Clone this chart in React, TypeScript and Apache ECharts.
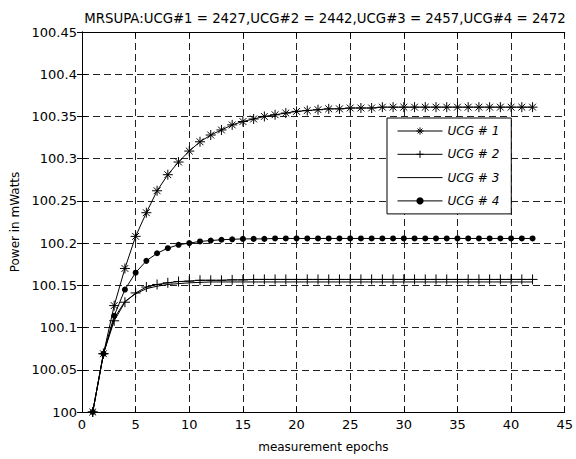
import React, { useEffect, useRef } from "react";
import * as echarts from "echarts";

const epochs: number[] = Array.from({ length: 42 }, (_, i) => i + 1);

const ucg1: number[] = [
  100, 100.069, 100.126, 100.17, 100.208, 100.236, 100.262, 100.281, 100.296, 100.309,
  100.32, 100.328, 100.334, 100.34, 100.344, 100.347, 100.35, 100.352, 100.354, 100.356,
  100.357, 100.358, 100.359, 100.359, 100.36, 100.36, 100.36, 100.361, 100.361, 100.361,
  100.361, 100.361, 100.361, 100.361, 100.361, 100.361, 100.361, 100.361, 100.361, 100.361,
  100.361, 100.361,
];
const ucg2: number[] = [
  100, 100.069, 100.108, 100.13, 100.141, 100.148, 100.151, 100.153, 100.1545, 100.155,
  100.156, 100.156, 100.156, 100.1565, 100.1565, 100.157, 100.157, 100.157, 100.157, 100.157,
  100.157, 100.157, 100.157, 100.157, 100.157, 100.157, 100.157, 100.157, 100.157, 100.157,
  100.157, 100.157, 100.157, 100.157, 100.157, 100.157, 100.157, 100.157, 100.157, 100.157,
  100.157, 100.157,
];
const ucg3: number[] = [
  100, 100.069, 100.111, 100.131, 100.14, 100.146, 100.149, 100.151, 100.152, 100.153,
  100.1535, 100.154, 100.154, 100.154, 100.154, 100.154, 100.154, 100.154, 100.154, 100.154,
  100.154, 100.154, 100.154, 100.154, 100.154, 100.154, 100.154, 100.154, 100.154, 100.154,
  100.154, 100.154, 100.154, 100.154, 100.154, 100.154, 100.154, 100.154, 100.154, 100.154,
  100.154, 100.154,
];
const ucg4: number[] = [
  100, 100.069, 100.114, 100.145, 100.165, 100.179, 100.188, 100.194, 100.198, 100.2,
  100.202, 100.203, 100.204, 100.2045, 100.205, 100.205, 100.205, 100.2055, 100.2055, 100.2055,
  100.2055, 100.2055, 100.2055, 100.2055, 100.2055, 100.2055, 100.2055, 100.2055, 100.2055, 100.2055,
  100.2055, 100.2055, 100.2055, 100.2055, 100.2055, 100.2055, 100.2055, 100.2055, 100.2055, 100.2055,
  100.2055, 100.2055,
];

const seriesNames = ["UCG # 1", "UCG # 2", "UCG # 3", "UCG # 4"];
const titleText = "MRSUPA:UCG#1 = 2427,UCG#2 = 2442,UCG#3 = 2457,UCG#4 = 2472";
const xName = "measurement epochs";
const yName = "Power in mWatts";

const FONT = "DejaVu Sans";
const asteriskPath = "path://M5,0L5,10M0,5L10,5M1.6,1.6L8.4,8.4M8.4,1.6L1.6,8.4";
const plusPath = "path://M5,0L5,10M0,5L10,5";

const pair = (ys: number[]) => epochs.map((x, i) => [x, ys[i]]);

export default function App() {
  const ref = useRef<HTMLDivElement>(null);
  useEffect(() => {
    if (!ref.current) return;
    const chart = echarts.init(ref.current, undefined, { renderer: "svg" });
    const axisCommon = {
      axisLine: { show: true, lineStyle: { color: "#000", width: 1 } },
      axisTick: { show: true, inside: true, length: 5, lineStyle: { color: "#000" } },
    };
    const yFmt = (v: number) => String(parseFloat(v.toFixed(2)));
    chart.setOption({
      animation: false,
      backgroundColor: "#fff",
      title: {
        text: titleText,
        left: 320,
        top: 7,
        textAlign: "center",
        textStyle: { fontFamily: FONT, fontSize: 13.3, fontWeight: "normal", color: "#000" },
      },
      legend: {
        orient: "vertical",
        left: 387,
        top: 118,
        padding: [7, 12, 7, 10],
        itemWidth: 45,
        itemHeight: 9,
        itemGap: 11.3,
        backgroundColor: "#fff",
        borderColor: "#000",
        borderWidth: 1,
        borderRadius: 0,
        lineStyle: { width: 1, color: "#000" },
        itemStyle: { borderWidth: 1 },
        data: [
          { name: seriesNames[0] },
          { name: seriesNames[1] },
          { name: seriesNames[2], itemStyle: { color: "rgba(0,0,0,0)", borderWidth: 0, opacity: 0 } },
          { name: seriesNames[3] },
        ],
        textStyle: { fontFamily: FONT, fontSize: 12, fontStyle: "italic", color: "#000" },
      },
      grid: { left: 82, right: 9, top: 32, bottom: 47 },
      xAxis: [
        {
          type: "value",
          min: 0,
          max: 45,
          interval: 5,
          name: xName,
          nameLocation: "middle",
          nameGap: 29,
          nameTextStyle: { fontFamily: FONT, fontSize: 12, color: "#000" },
          ...axisCommon,
          axisLabel: { fontFamily: FONT, fontSize: 13, color: "#000", margin: 6 },
          splitLine: { show: true, lineStyle: { color: "#222", type: [7, 4], width: 1 } },
        },
        {
          type: "value",
          position: "top",
          min: 0,
          max: 45,
          interval: 5,
          ...axisCommon,
          axisLabel: { show: false },
          splitLine: { show: false },
        },
      ],
      yAxis: [
        {
          type: "value",
          min: 100,
          max: 100.45,
          interval: 0.05,
          name: yName,
          nameLocation: "middle",
          nameGap: 61,
          nameTextStyle: { fontFamily: FONT, fontSize: 12, color: "#000" },
          ...axisCommon,
          axisLabel: { fontFamily: FONT, fontSize: 13, color: "#000", margin: 5, formatter: yFmt },
          splitLine: { show: true, lineStyle: { color: "#222", type: [7, 4], width: 1 } },
        },
        {
          type: "value",
          position: "right",
          min: 100,
          max: 100.45,
          interval: 0.05,
          ...axisCommon,
          axisLabel: { show: false },
          splitLine: { show: false },
        },
      ],
      series: [
        {
          name: seriesNames[0],
          type: "line",
          data: pair(ucg1),
          symbol: asteriskPath,
          symbolSize: 10,
          lineStyle: { color: "#000", width: 1 },
          itemStyle: { color: "rgba(0,0,0,0)", borderColor: "#000", borderWidth: 1 },
        },
        {
          name: seriesNames[1],
          type: "line",
          data: pair(ucg2),
          symbol: plusPath,
          symbolSize: 10,
          lineStyle: { color: "#000", width: 1 },
          itemStyle: { color: "rgba(0,0,0,0)", borderColor: "#000", borderWidth: 1 },
        },
        {
          name: seriesNames[2],
          type: "line",
          data: pair(ucg3),
          symbol: "none",
          lineStyle: { color: "#000", width: 1 },
          itemStyle: { color: "#000" },
        },
        {
          name: seriesNames[3],
          type: "line",
          data: pair(ucg4),
          symbol: "circle",
          symbolSize: 6,
          lineStyle: { color: "#000", width: 1 },
          itemStyle: { color: "#000", borderWidth: 0 },
        },
      ],
    });
    return () => chart.dispose();
  }, []);
  return (
    <div
      ref={ref}
      style={{ position: "fixed", left: 0, top: 0, width: 576, height: 459, background: "#fff" }}
    />
  );
}
